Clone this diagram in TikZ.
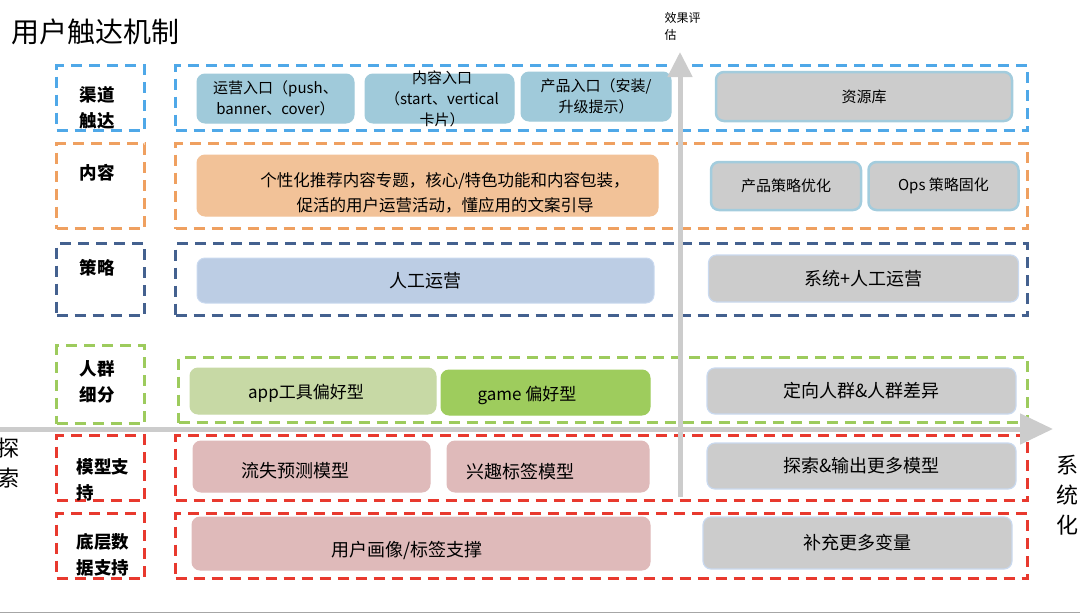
\documentclass[tikz,border=0pt]{standalone}
\usepackage{fontspec}
\setmainfont{Noto Sans CJK SC}
\usetikzlibrary{arrows.meta}

\definecolor{chanblue}{HTML}{4FA8E8}
\definecolor{contorange}{HTML}{EFA060}
\definecolor{stratblue}{HTML}{44618F}
\definecolor{crowdgreen}{HTML}{9DCB5D}
\definecolor{modelred}{HTML}{E8392E}
\definecolor{entryfill}{HTML}{A0CADA}
\definecolor{contfill}{HTML}{F2C298}
\definecolor{stratfill}{HTML}{BCCDE4}
\definecolor{appfill}{HTML}{C7D9A5}
\definecolor{gamefill}{HTML}{9ECC5D}
\definecolor{modelfill}{HTML}{DFBABA}
\definecolor{boxgrey}{HTML}{CCCCCC}
\definecolor{edgeblue}{HTML}{A3CCDD}
\definecolor{edgepale}{HTML}{C9D9EF}
\definecolor{axisgrey}{HTML}{CCCCCC}

\begin{document}
\begin{tikzpicture}[x=1pt,y=-1pt,
	frame/.style={draw=#1, line width=3pt, dash pattern=on 11pt off 7pt, anchor=north west, inner sep=0pt},
	cell/.style={rounded corners=8pt, fill=#1, draw=#1, line width=1pt, align=center, inner sep=0pt, font=\fontsize{15}{21}\selectfont},
	greycell/.style={cell=boxgrey, draw=edgeblue, line width=2.5pt},
	palecell/.style={cell=boxgrey, draw=edgepale, line width=1.2pt, font=\fontsize{18}{22}\selectfont},
	tag/.style={font=\bfseries\fontsize{17.5}{26}\selectfont, align=center},
	txt/.style={font=\fontsize{18}{25}\selectfont, align=center},
	side/.style={font=\fontsize{22}{30}\selectfont},
	axis/.style={draw=axisgrey, line width=5pt}]
				\useasboundingbox (0,0) rectangle (1080,614);
				\node[font=\fontsize{28}{32}\selectfont, anchor=west] (title) at (8,32) {用户触达机制};
				\node[font=\fontsize{12}{17}\selectfont, align=left, anchor=north west] (evalT) at (661,9) {效果评\\估};
				% dashed frames
				\node[frame=chanblue, minimum width=88pt, minimum height=65pt] (chanL) at (55,64) {};
				\node[frame=chanblue, minimum width=852pt, minimum height=65pt] (chanR) at (174,64) {};
				\node[frame=contorange, minimum width=88pt, minimum height=85pt] (contL) at (55,142) {};
				\node[frame=contorange, minimum width=852pt, minimum height=85pt] (contR) at (174,142) {};
				\node[frame=stratblue, minimum width=88pt, minimum height=72pt] (stratL) at (55,242) {};
				\node[frame=stratblue, minimum width=852pt, minimum height=72pt] (stratR) at (174,242) {};
				\node[frame=crowdgreen, minimum width=88pt, minimum height=78pt] (crowdL) at (55,344) {};
				\node[frame=crowdgreen, minimum width=849pt, minimum height=65pt] (crowdR) at (177,356) {};
				\node[frame=modelred, minimum width=88pt, minimum height=65pt] (modL) at (55,434) {};
				\node[frame=modelred, minimum width=852pt, minimum height=65pt] (modR) at (174,434) {};
				\node[frame=modelred, minimum width=88pt, minimum height=65pt] (baseL) at (55,512) {};
				\node[frame=modelred, minimum width=852pt, minimum height=65pt] (baseR) at (174,512) {};
				% row labels
				\node[tag] (chanT) at (97,108) {渠道\\触达};
				\node[tag] (contT) at (97,173) {内容};
				\node[tag] (stratT) at (97,268) {策略};
				\node[tag] (crowdT) at (97,382) {人群\\细分};
				\node[tag, align=left, anchor=west] (modT) at (73,480) {模型支\\持};
				\node[tag, align=left, anchor=west] (baseT) at (73,555) {底层数\\据支持};
				% channel row
				\node[cell=entryfill, minimum width=157pt, minimum height=49pt] (pushC) at (275.5,98.5) {运营入口（push、\\banner、cover）};
				\node[cell=entryfill, minimum width=149pt, minimum height=49pt] (startC) at (439.5,98.5) {};
				\node[cell=entryfill, minimum width=150pt, minimum height=49pt] (prodC) at (596,96.5) {产品入口（安装/\\升级提示）};
				\node[font=\fontsize{15}{21}\selectfont, align=center] (startT) at (442,99) {内容入口\\（start、vertical\\卡片）};
				\node[greycell, minimum width=296pt, minimum height=49pt] (resC) at (864,96.5) {资源库};
				% content row
				\node[cell=contfill, minimum width=461pt, minimum height=61pt] (persC) at (427.5,185.5) {};
				\node[font=\fontsize{16.5}{25}\selectfont, align=center] (persT) at (445,192.5) {个性化推荐内容专题，核心/特色功能和内容包装，\\促活的用户运营活动，懂应用的文案引导};
				\node[greycell, minimum width=150pt, minimum height=48pt] (pspC) at (786,186) {产品策略优化};
				\node[greycell, minimum width=150pt, minimum height=48pt] (opsC) at (943.5,186) {Ops 策略固化};
				% strategy row
				\node[cell=stratfill, draw=edgepale, minimum width=457pt, minimum height=45pt, font=\fontsize{18}{22}\selectfont] (manC) at (425.5,280.5) {人工运营};
				\node[palecell, minimum width=310pt, minimum height=47pt] (sysC) at (863.5,278.5) {系统+人工运营};
				% crowd row
				\node[cell=appfill, minimum width=246pt, minimum height=46pt] (appC) at (313,391) {};
				\node[txt, font=\fontsize{17}{25}\selectfont] (appT) at (306,393) {app工具偏好型};
				\node[cell=gamefill, minimum width=209pt, minimum height=45pt] (gameC) at (545.5,392.5) {};
				\node[txt, font=\fontsize{17}{25}\selectfont] (gameT) at (527,395) {game 偏好型};
				\node[palecell, minimum width=309pt, minimum height=46pt] (targC) at (861.5,391) {定向人群\&人群差异};
				% model row
				\node[cell=modelfill, minimum width=237pt, minimum height=51pt] (churnC) at (311.5,466.5) {};
				\node[txt] (churnT) at (295,471) {流失预测模型};
				\node[cell=modelfill, minimum width=202pt, minimum height=51pt] (intC) at (548,466.5) {};
				\node[txt] (intT) at (520,472) {兴趣标签模型};
				\node[palecell, minimum width=309pt, minimum height=46pt] (expC) at (861.5,466) {探索\&输出更多模型};
				% data row
				\node[cell=modelfill, minimum width=458pt, minimum height=53pt] (profC) at (421,543.5) {};
				\node[txt] (profT) at (407,550) {用户画像/标签支撑};
				\node[palecell, minimum width=309pt, minimum height=52pt] (varC) at (857.5,543) {补充更多变量};
				% axes
				\coordinate (hS) at (0,429);
				\coordinate (hE) at (1053,429);
				\coordinate (vS) at (680,497);
				\coordinate (vE) at (680,52);
				\draw[axis, -{Triangle[length=33pt,width=30pt]}] (hS) to (hE);
				\draw[axis, -{Triangle[length=25pt,width=24pt]}] (vS) to (vE);
				\node[side, align=center] (exploreT) at (9,463) {探\\索};
				\node[side, align=center] (systemT) at (1067,495) {系\\统\\化};
				\coordinate (bL) at (0,612.5);
				\coordinate (bR) at (1080,612.5);
				\draw[black!35, line width=1pt] (bL) to (bR);
			\end{tikzpicture}
\end{document}
